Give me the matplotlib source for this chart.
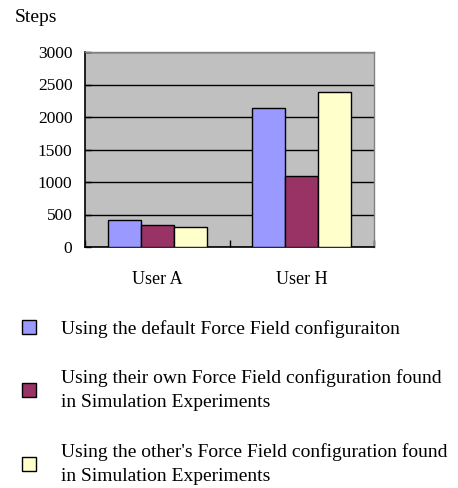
import numpy as np
import matplotlib.pyplot as plt

# Chart data
users = ['User A', 'User H']
default_cfg = [415, 2135]
own_cfg = [338, 1085]
other_cfg = [312, 2390]
series_labels = [
    'Using the default Force Field configuraiton',
    'Using their own Force Field configuration found\nin Simulation Experiments',
    "Using the other's Force Field configuration found\nin Simulation Experiments",
]
colors = ['#9999FF', '#993366', '#FFFFCC']
yticks = [0, 500, 1000, 1500, 2000, 2500, 3000]

plt.rcParams['font.family'] = ['Liberation Serif', 'DejaVu Serif']

fig = plt.figure(figsize=(4.58, 4.88), dpi=100)
ax = fig.add_axes([85 / 458, 241 / 488, 289 / 458, 195 / 488])
ax.set_facecolor('#C0C0C0')

x = np.arange(len(users))
w = 0.228
bars = []
for i, vals in enumerate([default_cfg, own_cfg, other_cfg]):
    b = ax.bar(x + (i - 1) * w, vals, width=w, color=colors[i],
               edgecolor='black', linewidth=1.0, zorder=3)
    bars.append(b)

ax.set_xlim(-0.5, 1.5)
ax.set_ylim(0, 3000)
ax.set_yticks(yticks)
ax.set_yticklabels([str(v) for v in yticks], fontsize=12.5)
ax.yaxis.grid(True, color='black', linewidth=1.0, zorder=1)
ax.set_axisbelow(True)

# category boundaries as ticks, names as minor labels
ax.set_xticks([-0.5, 0.5, 1.5])
ax.set_xticklabels([])
ax.set_xticks(x, minor=True)
ax.set_xticklabels(users, minor=True, fontsize=13)
ax.tick_params(axis='x', which='major', direction='in', length=5, width=1)
ax.tick_params(axis='x', which='minor', length=0, pad=17)
ax.tick_params(axis='y', direction='in', length=4, width=1, pad=9)

for s in ['left', 'bottom']:
    ax.spines[s].set_color('black')
    ax.spines[s].set_linewidth(1.2)
for s in ['top', 'right']:
    ax.spines[s].set_color('#808080')
    ax.spines[s].set_linewidth(1.0)

fig.text(15 / 458, 1 - 17 / 488, 'Steps', fontsize=14, va='center', ha='left')

leg = fig.legend([b[0] for b in bars], series_labels, loc='upper left',
                 bbox_to_anchor=(14 / 458, 1 - 312 / 488), frameon=False,
                 fontsize=14, handlelength=0.72, handleheight=0.72,
                 handletextpad=1.3, labelspacing=1.63, borderaxespad=0)
for t in leg.get_texts():
    t.set_linespacing(1.55)

fig.savefig('out.png', dpi=100)
